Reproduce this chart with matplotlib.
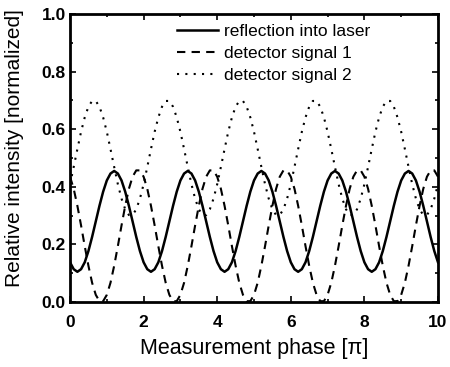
import numpy as np
import matplotlib.pyplot as plt
from matplotlib.ticker import MultipleLocator

plt.rcParams['font.family'] = ['Liberation Sans', 'DejaVu Sans']

# phase in units of pi, sampled every 0.1
phase = np.arange(101) * 0.1

reflection = [
    0.138, 0.114, 0.105, 0.114, 0.138, 0.177, 0.226, 0.280, 0.334, 0.383,
    0.422, 0.446, 0.455, 0.446, 0.422, 0.383, 0.334, 0.280, 0.226, 0.177,
    0.138, 0.114, 0.105, 0.114, 0.138, 0.177, 0.226, 0.280, 0.334, 0.383,
    0.422, 0.446, 0.455, 0.446, 0.422, 0.383, 0.334, 0.280, 0.226, 0.177,
    0.138, 0.114, 0.105, 0.114, 0.138, 0.177, 0.226, 0.280, 0.334, 0.383,
    0.422, 0.446, 0.455, 0.446, 0.422, 0.383, 0.334, 0.280, 0.226, 0.177,
    0.138, 0.114, 0.105, 0.114, 0.138, 0.177, 0.226, 0.280, 0.334, 0.383,
    0.422, 0.446, 0.455, 0.446, 0.422, 0.383, 0.334, 0.280, 0.226, 0.177,
    0.138, 0.114, 0.105, 0.114, 0.138, 0.177, 0.226, 0.280, 0.334, 0.383,
    0.422, 0.446, 0.455, 0.446, 0.422, 0.383, 0.334, 0.280, 0.226, 0.177,
    0.138,
]

signal1 = [
    0.435, 0.393, 0.334, 0.266, 0.194, 0.126, 0.067, 0.025, 0.003, 0.003,
    0.025, 0.067, 0.126, 0.194, 0.266, 0.334, 0.393, 0.435, 0.457, 0.457,
    0.435, 0.393, 0.334, 0.266, 0.194, 0.126, 0.067, 0.025, 0.003, 0.003,
    0.025, 0.067, 0.126, 0.194, 0.266, 0.334, 0.393, 0.435, 0.457, 0.457,
    0.435, 0.393, 0.334, 0.266, 0.194, 0.126, 0.067, 0.025, 0.003, 0.003,
    0.025, 0.067, 0.126, 0.194, 0.266, 0.334, 0.393, 0.435, 0.457, 0.457,
    0.435, 0.393, 0.334, 0.266, 0.194, 0.126, 0.067, 0.025, 0.003, 0.003,
    0.025, 0.067, 0.126, 0.194, 0.266, 0.334, 0.393, 0.435, 0.457, 0.457,
    0.435, 0.393, 0.334, 0.266, 0.194, 0.126, 0.067, 0.025, 0.003, 0.003,
    0.025, 0.067, 0.126, 0.194, 0.266, 0.334, 0.393, 0.435, 0.457, 0.457,
    0.435,
]

signal2 = [
    0.409, 0.469, 0.531, 0.591, 0.641, 0.678, 0.698, 0.698, 0.678, 0.641,
    0.591, 0.531, 0.469, 0.409, 0.359, 0.322, 0.302, 0.302, 0.322, 0.359,
    0.409, 0.469, 0.531, 0.591, 0.641, 0.678, 0.698, 0.698, 0.678, 0.641,
    0.591, 0.531, 0.469, 0.409, 0.359, 0.322, 0.302, 0.302, 0.322, 0.359,
    0.409, 0.469, 0.531, 0.591, 0.641, 0.678, 0.698, 0.698, 0.678, 0.641,
    0.591, 0.531, 0.469, 0.409, 0.359, 0.322, 0.302, 0.302, 0.322, 0.359,
    0.409, 0.469, 0.531, 0.591, 0.641, 0.678, 0.698, 0.698, 0.678, 0.641,
    0.591, 0.531, 0.469, 0.409, 0.359, 0.322, 0.302, 0.302, 0.322, 0.359,
    0.409, 0.469, 0.531, 0.591, 0.641, 0.678, 0.698, 0.698, 0.678, 0.641,
    0.591, 0.531, 0.469, 0.409, 0.359, 0.322, 0.302, 0.302, 0.322, 0.359,
    0.409,
]

xticks = [0, 2, 4, 6, 8, 10]
yticks = [0.0, 0.2, 0.4, 0.6, 0.8, 1.0]

fig = plt.figure(figsize=(4.5, 3.67), dpi=100)
ax = fig.add_axes([0.1556, 0.177, 0.8177, 0.785])

ax.plot(phase, reflection, color='black', lw=1.8, ls='-',
        label='reflection into laser')
ax.plot(phase, signal1, color='black', lw=1.5, ls=(0, (4, 3)),
        label='detector signal 1')
ax.plot(phase, signal2, color='black', lw=1.5, ls=(0, (1, 3)),
        label='detector signal 2')

ax.set_xlim(0, 10)
ax.set_ylim(0, 1.0)
ax.set_xticks(xticks)
ax.set_xticklabels([str(v) for v in xticks])
ax.set_yticks(yticks)
ax.set_yticklabels([f'{v:.1f}' for v in yticks])
ax.xaxis.set_minor_locator(MultipleLocator(1))
ax.yaxis.set_minor_locator(MultipleLocator(0.1))

ax.tick_params(which='both', direction='in', top=True, right=True,
               width=1.2, labelsize=12.5)
ax.tick_params(which='major', length=4)
ax.tick_params(which='minor', length=2.5)
ax.tick_params(axis='x', which='major', pad=9)
ax.tick_params(axis='y', which='major', pad=3)
for lab in ax.get_xticklabels() + ax.get_yticklabels():
    lab.set_fontweight('bold')
for sp in ax.spines.values():
    sp.set_linewidth(2)

ax.set_xlabel('Measurement phase [π]', fontsize=15.5)
ax.set_ylabel('Relative intensity [normalized]', fontsize=15)
ax.xaxis.set_label_coords(0.5, -0.125)
ax.yaxis.set_label_coords(-0.125, 0.535)

leg = ax.legend(loc='upper left', frameon=False, handlelength=2.4,
                handletextpad=0.35, labelspacing=0.4, borderpad=0,
                borderaxespad=0, bbox_to_anchor=(0.29, 0.965),
                prop={'family': ['Liberation Sans Narrow', 'Liberation Sans'],
                      'size': 12.5})

fig.savefig('out.png', dpi=100)
